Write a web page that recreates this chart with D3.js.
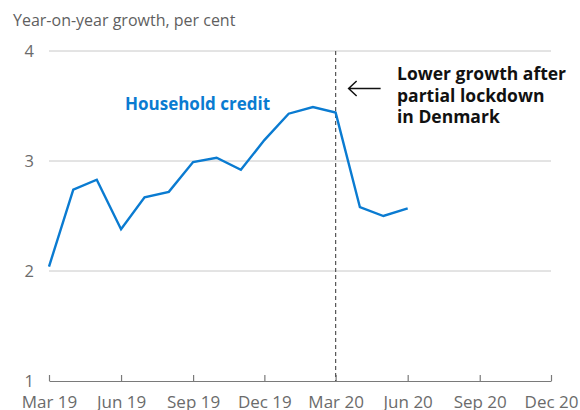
<!DOCTYPE html>
<html>
<head>
<meta charset="utf-8">
<script src="https://cdn.jsdelivr.net/npm/d3@7"></script>
<style>
  html, body { margin: 0; padding: 0; background: #fff; }
  svg { display: block; font-family: "Open Sans", "Noto Sans", sans-serif; }
</style>
</head>
<body>
<svg id="chart" width="580" height="410"></svg>
<script>
// Household credit, year-on-year growth in per cent, monthly
const months = ["2019-03","2019-04","2019-05","2019-06","2019-07","2019-08","2019-09","2019-10",
                "2019-11","2019-12","2020-01","2020-02","2020-03","2020-04","2020-05","2020-06"];
const householdCredit = [2.04, 2.74, 2.83, 2.38, 2.67, 2.72, 2.99, 3.03,
                         2.92, 3.19, 3.43, 3.49, 3.44, 2.58, 2.50, 2.57];
const yTicks = [1, 2, 3, 4];
const xTickMonths = ["2019-03","2019-06","2019-09","2019-12","2020-03","2020-06","2020-09","2020-12"];
const lockdownMonth = "2020-03";
const yTitle = "Year-on-year growth, per cent";
const seriesLabel = "Household credit";
const noteLines = ["Lower growth after", "partial lockdown", "in Denmark"];

const parse = d3.timeParse("%Y-%m");
const fmt = d3.timeFormat("%b %y");
const data = months.map((m, i) => ({ date: parse(m), value: householdCredit[i] }));

const svg = d3.select("#chart");
const plot = { left: 49, right: 551, top: 51, bottom: 381 };

const x = d3.scaleTime()
  .domain([parse("2019-03"), parse("2020-12")])
  .range([plot.left, plot.right]);
const y = d3.scaleLinear().domain([1, 4]).range([plot.bottom, plot.top]);

// horizontal gridlines
svg.append("g")
  .selectAll("line")
  .data(yTicks.filter(t => t > 1))
  .join("line")
  .attr("x1", plot.left).attr("x2", plot.right)
  .attr("y1", d => y(d)).attr("y2", d => y(d))
  .attr("stroke", "#c8c8c8").attr("stroke-width", 1);

// y axis labels
const yAxis = svg.append("g")
  .attr("transform", `translate(${plot.left},0)`)
  .call(d3.axisLeft(y).tickValues(yTicks).tickSize(0).tickPadding(15).tickFormat(d3.format("d")));
yAxis.select(".domain").remove();
yAxis.selectAll("text")
  .attr("fill", "#6b6b6b").style("font-size", "16.5px").style("font-family", "Open Sans, sans-serif");

// x axis with ticks pointing up
const xAxis = svg.append("g")
  .attr("transform", `translate(0,${plot.bottom})`)
  .call(d3.axisBottom(x)
    .tickValues(xTickMonths.map(parse))
    .tickSizeInner(-6).tickSizeOuter(0)
    .tickPadding(15)
    .tickFormat(fmt));
xAxis.select(".domain").attr("stroke", "#7a7a7a").attr("stroke-width", 1.2);
xAxis.selectAll(".tick line").attr("stroke", "#7a7a7a").attr("stroke-width", 1.2);
xAxis.selectAll("text")
  .attr("fill", "#6b6b6b").style("font-size", "17px").style("font-family", "Open Sans, sans-serif");

// lockdown marker
svg.append("line")
  .attr("x1", x(parse(lockdownMonth))).attr("x2", x(parse(lockdownMonth)))
  .attr("y1", plot.top).attr("y2", plot.bottom)
  .attr("stroke", "#555").attr("stroke-width", 1.2)
  .attr("stroke-dasharray", "4,3");

// series line
svg.append("path")
  .datum(data)
  .attr("fill", "none")
  .attr("stroke", "#0a7bd1")
  .attr("stroke-width", 2.4)
  .attr("stroke-linejoin", "miter")
  .attr("d", d3.line().x(d => x(d.date)).y(d => y(d.value)));

// axis title
svg.append("text")
  .attr("x", 13).attr("y", 26)
  .attr("fill", "#5f5f5f")
  .style("font-size", "16px")
  .text(yTitle);

// series label
svg.append("text")
  .attr("x", 125).attr("y", 110)
  .attr("fill", "#0a7bd1")
  .style("font-size", "17px").style("font-weight", "bold")
  .text(seriesLabel);

// annotation with arrow
const ax = x(parse(lockdownMonth));
const arrowY = 88.5;
svg.append("path")
  .attr("d", `M${ax + 13},${arrowY} H${ax + 45} M${ax + 21},${arrowY - 7.5} L${ax + 13},${arrowY} L${ax + 21},${arrowY + 7.5}`)
  .attr("fill", "none").attr("stroke", "#111").attr("stroke-width", 1.5);

svg.append("text")
  .attr("x", 397).attr("y", 80)
  .attr("fill", "#111")
  .style("font-size", "17.5px").style("font-weight", "bold")
  .selectAll("tspan")
  .data(noteLines)
  .join("tspan")
  .attr("x", 397)
  .attr("dy", (d, i) => i === 0 ? 0 : 21.5)
  .text(d => d);
</script>
</body>
</html>
